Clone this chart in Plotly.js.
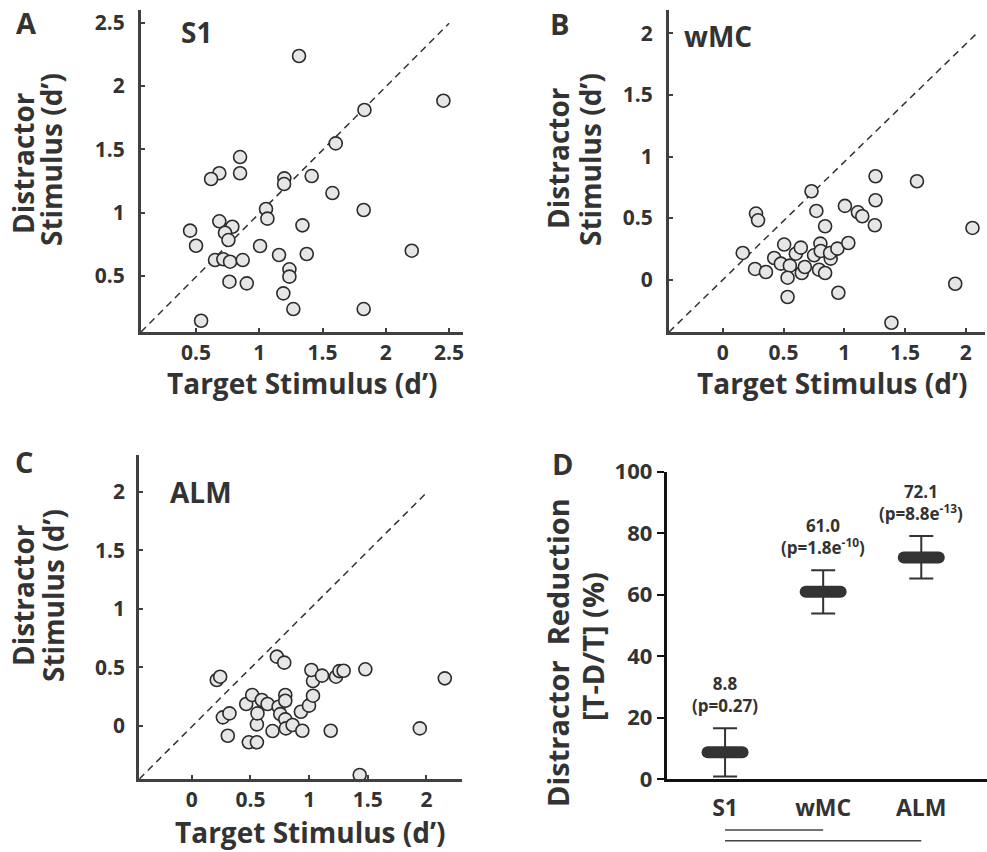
<!DOCTYPE html>
<html>
<head>
<meta charset="utf-8">
<script src="https://cdn.plot.ly/plotly-3.0.1.min.js"></script>
<style>
  html, body { margin: 0; padding: 0; background: #fff; }
  #chart { width: 987px; height: 852px; }
  .scatterlayer path.point { stroke-linecap: round; }
</style>
</head>
<body>
<div id="chart"></div>
<script>
// ---------- Data ----------
// Panel A: S1
const s1Target = [1.314, 2.455, 1.831, 1.604, 0.848, 0.684, 0.619, 0.848, 1.198, 1.196, 1.414, 1.578, 1.825, 1.053, 1.064, 0.684, 0.787, 0.729, 0.756, 0.453, 0.500, 1.341, 1.006, 1.156, 1.375, 2.205, 0.650, 0.716, 0.769, 0.869, 1.238, 1.238, 0.764, 0.901, 1.190, 1.269, 1.825, 0.540];
const s1Distr  = [2.237, 1.884, 1.811, 1.547, 1.439, 1.311, 1.266, 1.311, 1.271, 1.226, 1.289, 1.155, 1.021, 1.029, 0.953, 0.932, 0.889, 0.842, 0.784, 0.858, 0.739, 0.900, 0.737, 0.666, 0.674, 0.700, 0.626, 0.632, 0.613, 0.626, 0.553, 0.495, 0.455, 0.442, 0.363, 0.239, 0.239, 0.147];
// Panel B: wMC
const wmcTarget = [0.164, 0.273, 0.290, 0.265, 0.355, 0.423, 0.478, 0.505, 0.552, 0.533, 0.533, 0.601, 0.642, 0.650, 0.675, 0.730, 0.751, 0.770, 0.792, 0.803, 0.806, 0.842, 0.842, 0.888, 0.883, 0.943, 0.951, 1.005, 1.033, 1.112, 1.148, 1.257, 1.257, 1.251, 1.388, 1.598, 1.913, 2.055];
const wmcDistr  = [0.217, 0.537, 0.482, 0.087, 0.062, 0.176, 0.130, 0.285, 0.114, 0.016, -0.141, 0.211, 0.260, 0.054, 0.103, 0.718, 0.198, 0.558, 0.081, 0.293, 0.233, 0.054, 0.434, 0.171, 0.217, 0.252, -0.106, 0.599, 0.298, 0.547, 0.515, 0.840, 0.645, 0.442, -0.350, 0.799, -0.033, 0.420];
// Panel C: ALM
const almTarget = [0.213, 0.242, 0.265, 0.321, 0.307, 0.464, 0.515, 0.486, 0.555, 0.555, 0.560, 0.597, 0.646, 0.688, 0.725, 0.788, 0.740, 0.754, 0.797, 0.797, 0.797, 0.802, 0.859, 0.930, 0.942, 0.999, 1.033, 1.033, 1.019, 1.110, 1.184, 1.229, 1.258, 1.294, 1.479, 1.431, 1.943, 2.156];
const almDistr  = [0.393, 0.421, 0.074, 0.108, -0.083, 0.188, 0.265, -0.139, -0.139, 0.014, 0.108, 0.222, 0.188, -0.043, 0.592, 0.541, 0.165, 0.102, 0.265, 0.216, 0.057, -0.020, 0.009, 0.122, -0.040, 0.174, 0.259, 0.384, 0.478, 0.430, -0.040, 0.421, 0.469, 0.472, 0.484, -0.418, -0.020, 0.407];
// Unity (reference) lines, as drawn in each panel
const diagA = { x: [0.065, 2.5], y: [0.058, 2.495] };
const diagB = { x: [-0.443, 2.09], y: [-0.425, 2.0] };
const diagC = { x: [-0.447, 1.986], y: [-0.452, 1.977] };
// Panel D
const regions = ['S1', 'wMC', 'ALM'];
const reductionMean = [8.8, 61.0, 72.1];
const reductionUpper = [16.6, 68.0, 79.1];
const reductionLower = [0.9, 53.9, 65.3];
const reductionValueText = ['8.8', '61.0', '72.1'];
const reductionPText = ['(p=0.27)', '(p=1.8e<sup>-10</sup>)', '(p=8.8e<sup>-13</sup>)'];
const comparisons = [[0, 1], [0, 2]];
// Tick labels
const tickA = [0.5, 1, 1.5, 2, 2.5];
const tickBC = [0, 0.5, 1, 1.5, 2];
const tickD = [0, 20, 40, 60, 80, 100];

// ---------- Styles ----------
const FONT = '"Open Sans", sans-serif';
const TXT = '#333333';
const AX = '#404040';
const ptMarker = { size: 13, color: '#e6e6e6', line: { color: '#2b2b2b', width: 1.6 } };
const dashLine = { color: '#333', width: 1.5, dash: '7px,5px' };

function scatter(x, y, xa, ya) {
  return { type: 'scatter', mode: 'markers', x: x, y: y, xaxis: xa, yaxis: ya,
           marker: ptMarker, hoverinfo: 'skip', showlegend: false, cliponaxis: false };
}
function diag(d, xa, ya) {
  return { type: 'scatter', mode: 'lines', x: d.x, y: d.y, xaxis: xa, yaxis: ya,
           line: dashLine, hoverinfo: 'skip', showlegend: false };
}

const catPos = regions.map((_, i) => i + 1);
const errUp = reductionUpper.map((u, i) => u - reductionMean[i]);
const errDn = reductionMean.map((m, i) => m - reductionLower[i]);

const traces = [
  diag(diagA, 'x', 'y'), scatter(s1Target, s1Distr, 'x', 'y'),
  diag(diagB, 'x2', 'y2'), scatter(wmcTarget, wmcDistr, 'x2', 'y2'),
  diag(diagC, 'x3', 'y3'), scatter(almTarget, almDistr, 'x3', 'y3'),
  { type: 'scatter', mode: 'markers', x: catPos, y: reductionMean, xaxis: 'x4', yaxis: 'y4',
    marker: { symbol: 'line-ew', size: 25, color: '#333', line: { color: '#333', width: 12 } },
    error_y: { type: 'data', array: errUp, arrayminus: errDn, symmetric: false, width: 12, thickness: 2, color: '#333' },
    hoverinfo: 'skip', showlegend: false, cliponaxis: false }
];

function sAxis(domain, range, tickvals, anchor, standoff) {
  return { domain: domain, range: range, anchor: anchor, tickmode: 'array', tickvals: tickvals,
           ticktext: tickvals.map(String), ticks: 'inside', ticklen: 4, tickwidth: 2, tickcolor: AX,
           showline: true, linecolor: AX, linewidth: 3, showgrid: false, zeroline: false,
           tickfont: { family: FONT, size: 21, color: TXT, weight: 'bold' }, ticklabelstandoff: standoff,
           fixedrange: true };
}

const P = (px) => px / 987;
const Q = (py) => 1 - py / 852;

const annotations = [];
function txt(text, px, py, size, angle) {
  annotations.push({ text: text, xref: 'paper', yref: 'paper', x: P(px), y: Q(py),
    xanchor: 'center', yanchor: 'middle', showarrow: false, textangle: angle || 0,
    font: { family: FONT, size: size, color: TXT, weight: 'bold' } });
}
// Panel letters
txt('A', 26, 22, 29); txt('B', 559, 23, 29); txt('C', 24, 461, 29); txt('D', 562, 463, 29);
// Panel names
txt('S1', 196, 32, 28); txt('wMC', 718, 36, 28); txt('ALM', 201, 492, 28);
// Axis titles
txt('Target Stimulus (d’)', 302, 383, 28);
txt('Target Stimulus (d’)', 832, 383, 28);
txt('Target Stimulus (d’)', 310, 832, 28);
txt('Distractor', 23, 163, 28, -90); txt('Stimulus (d’)', 51, 160, 28, -90);
txt('Distractor', 558, 158, 28, -90); txt('Stimulus (d’)', 590, 160, 28, -90);
txt('Distractor', 23, 595, 28, -90); txt('Stimulus (d’)', 53, 596, 28, -90);
txt('Distractor  Reduction', 557, 653, 29, -90); txt('[T-D/T] (%)', 592, 647, 29, -90);
// Panel D value labels (value on first line, p-value on second)
catPos.forEach((c, i) => {
  annotations.push({ text: reductionValueText[i] + '<br>' + reductionPText[i], xref: 'x4', yref: 'y4',
    x: c, y: reductionUpper[i], xanchor: 'center', yanchor: 'bottom', yshift: 9, showarrow: false,
    font: { family: FONT, size: 17, color: TXT, weight: 'bold' } });
});

const shapes = comparisons.map((c, k) => ({
  type: 'line', xref: 'x4', yref: 'paper', x0: catPos[c[0]], x1: catPos[c[1]],
  y0: Q(830 + k * 10.7), y1: Q(830 + k * 10.7), line: { color: '#444', width: 1.5 }
}));

const layout = {
  width: 987, height: 852, margin: { l: 0, r: 0, t: 0, b: 0 },
  paper_bgcolor: '#fff', plot_bgcolor: 'rgba(0,0,0,0)', showlegend: false,
  font: { family: FONT, color: TXT, size: 19, weight: 'bold' },
  xaxis: sAxis([P(141), P(463)], [0.065, 2.61], tickA, 'y', 0),
  yaxis: sAxis([Q(332), Q(10)], [0.058, 2.6], tickA, 'x', 9),
  xaxis2: sAxis([P(669), P(985)], [-0.443, 2.158], tickBC, 'y2', 0),
  yaxis2: sAxis([Q(332), Q(10)], [-0.425, 2.19], tickBC, 'x2', 9),
  xaxis3: sAxis([P(139.3), P(461.7)], [-0.447, 2.30], tickBC, 'y3', 0),
  yaxis3: sAxis([Q(779), Q(455)], [-0.452, 2.313], tickBC, 'x3', 7),
  xaxis4: { domain: [P(666.7), 1], range: [0.405, 3.67], anchor: 'y4', tickmode: 'array',
            tickvals: catPos, ticktext: regions, ticks: '', showline: true, linecolor: '#111',
            linewidth: 3, showgrid: false, zeroline: false, ticklabelstandoff: 6,
            tickfont: { family: FONT, size: 23, color: TXT, weight: 'bold' }, fixedrange: true },
  yaxis4: { domain: [Q(779.3), Q(471.7)], range: [0, 100], anchor: 'x4', tickmode: 'array',
            tickvals: tickD, ticktext: tickD.map(String), ticks: 'outside', ticklen: 7, tickwidth: 2,
            tickcolor: '#111', showline: true, linecolor: '#111', linewidth: 3, showgrid: false,
            zeroline: false, tickfont: { family: FONT, size: 22, color: TXT, weight: 'bold' }, fixedrange: true },
  annotations: annotations,
  shapes: shapes
};

Plotly.newPlot('chart', traces, layout, { displayModeBar: false, staticPlot: true });
</script>
</body>
</html>
